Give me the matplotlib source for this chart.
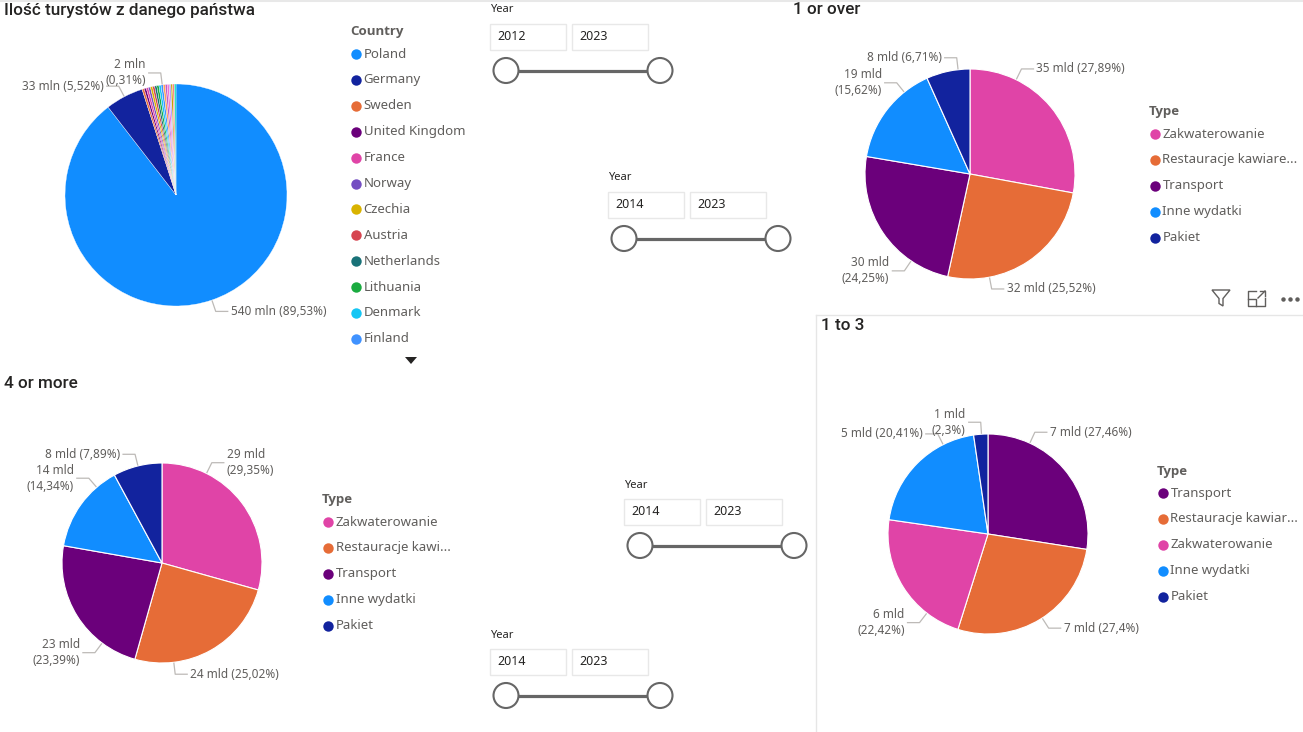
import numpy as np
import matplotlib
matplotlib.use("Agg")
import matplotlib.pyplot as plt
from matplotlib.patches import Circle, Rectangle, Polygon

W, H = 1303, 732

# --- data -----------------------------------------------------------------
countries = ["Poland", "Germany", "Sweden", "United Kingdom", "France", "Norway",
             "Czechia", "Austria", "Netherlands", "Lithuania", "Denmark", "Finland",
             "Italy", "Spain", "Ukraine", "Belgium", "Latvia", "Hungary", "Slovakia"]
tourists_mln = [540.0, 33.3, 1.88, 1.88, 1.87, 1.87, 1.87, 1.86, 1.86, 1.86, 1.85,
                1.85, 1.80, 1.70, 1.65, 1.60, 1.55, 1.50, 1.40]
country_colors = ["#118DFF", "#12239E", "#E66C37", "#6B007B", "#E044A7", "#744EC2",
                  "#D9B300", "#D64550", "#197278", "#1AAB40", "#15C6F4", "#4092FF",
                  "#FFA058", "#BE5DC9", "#F472D0", "#B5A1FF", "#C4A200", "#FF8080",
                  "#00DBBC"]

types_over1 = ["Zakwaterowanie", "Restauracje kawiarenki", "Transport", "Inne wydatki", "Pakiet"]
spend_over1 = [34.667, 31.721, 30.143, 19.416, 8.341]          # mld

types_4more = ["Zakwaterowanie", "Restauracje kawiarenki", "Transport", "Inne wydatki", "Pakiet"]
spend_4more = [28.616, 24.395, 22.805, 13.982, 7.693]          # mld

types_1to3 = ["Transport", "Restauracje kawiarenki", "Zakwaterowanie", "Inne wydatki", "Pakiet"]
spend_1to3 = [7.0023, 6.987, 5.7171, 5.2046, 0.5865]           # mld

type_colors = {"Zakwaterowanie": "#E044A7", "Restauracje kawiarenki": "#E66C37",
               "Transport": "#6B007B", "Inne wydatki": "#118DFF", "Pakiet": "#12239E"}

year_ranges = [(2012, 2023), (2014, 2023), (2014, 2023), (2014, 2023)]

# --- style ----------------------------------------------------------------
plt.rcParams["font.family"] = ["Noto Sans", "DejaVu Sans"]
TITLE = "#252423"
GREY = "#605E5C"
LEADER = "#BDBAB7"
TITLE_FONT = ["Roboto", "DejaVu Sans"]
BOLD_FONT = ["Open Sans", "DejaVu Sans"]

fig = plt.figure(figsize=(W / 100, H / 100), dpi=100)
ax = fig.add_axes([0, 0, 1, 1])


def fmt_pct(p):
    s = f"{p:.2f}".rstrip("0").rstrip(".")
    return s.replace(".", ",")


def draw_pie(cx, cy, r, values, colors, unit, label_spec, edge_lw=0.8):
    # y axis is inverted, so counterclock=True from -90 runs clockwise from the top
    wedges, _ = ax.pie(values, colors=colors, center=(cx, cy), radius=r,
                       startangle=-90, counterclock=True, frame=True,
                       wedgeprops=dict(edgecolor="white", linewidth=edge_lw))
    total = float(sum(values))
    for i, (frac, two_line) in label_spec.items():
        w = wedges[i]
        a = np.deg2rad(w.theta1 + frac * (w.theta2 - w.theta1))
        x0, y0 = cx + (r + 1) * np.cos(a), cy + (r + 1) * np.sin(a)
        x1, y1 = cx + (r + 12) * np.cos(a), cy + (r + 12) * np.sin(a)
        side = 1 if np.cos(a) >= 0 else -1
        x2 = x1 + side * 12
        ax.plot([x0, x1, x2], [y0, y1, y1], color=LEADER, lw=0.9, zorder=3)
        sep = "\n" if two_line else " "
        txt = f"{values[i]:.0f} {unit}{sep}({fmt_pct(values[i] / total * 100)}%)"
        ha = "left" if side > 0 else "right"
        ax.text(x2 + side * 3, y1, txt, ha=ha, va="center", multialignment=ha,
                fontsize=8.5, color=GREY, linespacing=1.3)


def draw_legend(x, y, title, names, colors, maxlen=None):
    ax.text(x, y, title, fontsize=9.5, fontweight="bold", color=GREY, va="center",
            family=BOLD_FONT)
    for i, (n, c) in enumerate(zip(names, colors)):
        yy = y + 22 + i * 25.9
        if maxlen and len(n) > maxlen:
            n = n[:maxlen] + "..."
        ax.plot(x + 6, yy, "o", ms=7.5, color=c, mec="none")
        ax.text(x + 13.5, yy, n, fontsize=9.5, color=GREY, va="center")


def draw_slider(x, y, start, end):
    ax.text(x, y, "Year", fontsize=8, color=TITLE, va="center")
    for j, val in enumerate((start, end)):
        bx = x + j * 82
        ax.add_patch(Rectangle((bx, y + 13.5), 76, 26, facecolor="white",
                               edgecolor="#E8E8E8", lw=1))
        ax.text(bx + 7, y + 26.5, str(val), fontsize=9, color=TITLE, va="center")
    ty = y + 60.5
    ax.plot([x + 16, x + 170], [ty, ty], color="#666666", lw=2.3, zorder=2)
    for cxs in (x + 16, x + 170):
        ax.add_patch(Circle((cxs, ty), 12.5, facecolor="white", edgecolor="#666666",
                            lw=1.5, zorder=3))


def draw_title(x, y, text):
    ax.text(x, y, text, fontsize=12.3, color=TITLE, va="center", family=TITLE_FONT,
            fontweight="medium")


# --- country pie ----------------------------------------------------------
draw_title(4, 10, "Ilość turystów z danego państwa")
draw_pie(176, 195, 111, tourists_mln, country_colors, "mln",
         {0: (0.5, False), 1: (0.5, False), 11: (0.6, True)}, edge_lw=0.25)
draw_legend(350, 32, "Country", countries[:12], country_colors[:12])
ax.add_patch(Polygon([(405, 357), (417, 357), (411, 364)], closed=True,
                     facecolor="#252423", edgecolor="none"))

# --- 1 or over ------------------------------------------------------------
draw_title(793, 9, "1 or over")
draw_pie(970, 174, 105, spend_over1, [type_colors[t] for t in types_over1], "mld",
         {0: (0.26, False), 1: (0.75, False), 2: (0.25, True), 3: (0.74, True),
          4: (0.73, False)})
draw_legend(1149, 112, "Type", types_over1, [type_colors[t] for t in types_over1], 19)

# --- 4 or more ------------------------------------------------------------
draw_title(4, 383, "4 or more")
draw_pie(162, 563, 100, spend_4more, [type_colors[t] for t in types_4more], "mld",
         {0: (0.25, True), 1: (0.75, False), 2: (0.25, True), 3: (0.76, True),
          4: (0.51, False)})
draw_legend(322, 500, "Type", types_4more, [type_colors[t] for t in types_4more], 16)

# --- 1 to 3 ---------------------------------------------------------------
ax.plot([816, 816], [315, H], color="#E6E6E6", lw=1)
ax.plot([816, W], [314.5, 314.5], color="#E6E6E6", lw=1)
draw_title(821, 326, "1 to 3")
draw_pie(988, 534, 100, spend_1to3, [type_colors[t] for t in types_1to3], "mld",
         {0: (0.25, False), 1: (0.49, False), 2: (0.25, True), 3: (0.75, False),
          4: (0.55, True)})
draw_legend(1157, 471, "Type", types_1to3, [type_colors[t] for t in types_1to3], 18)

# header icons of the focused visual
ax.add_patch(Polygon([(1212, 290), (1230, 290), (1223, 298.5), (1223, 306),
                      (1219, 303.5), (1219, 298.5)], closed=True, fill=False,
                     edgecolor=GREY, lw=1))
ax.plot([1256, 1248, 1248, 1265, 1265], [291, 291, 306, 306, 298], color=GREY, lw=1)
ax.plot([1248, 1256, 1256], [299, 299, 306], color=GREY, lw=1)
ax.plot([1258, 1265], [298, 291], color=GREY, lw=1)
ax.plot([1260, 1265, 1265], [291, 291, 296], color=GREY, lw=1)
ax.plot([1283, 1290, 1297], [299, 299, 299], "o", ms=2.2, color=GREY)

# --- sliders --------------------------------------------------------------
for (sx, sy), (y0, y1) in zip([(490, 10), (608, 178), (624, 485), (490, 635)], year_ranges):
    draw_slider(sx, sy, y0, y1)

ax.plot([0, W], [0.5, 0.5], color="#E8E8E8", lw=1.5)

ax.set_aspect("auto")
ax.set_xlim(0, W)
ax.set_ylim(H, 0)
ax.axis("off")

fig.savefig("out.png", dpi=100, facecolor="white")
